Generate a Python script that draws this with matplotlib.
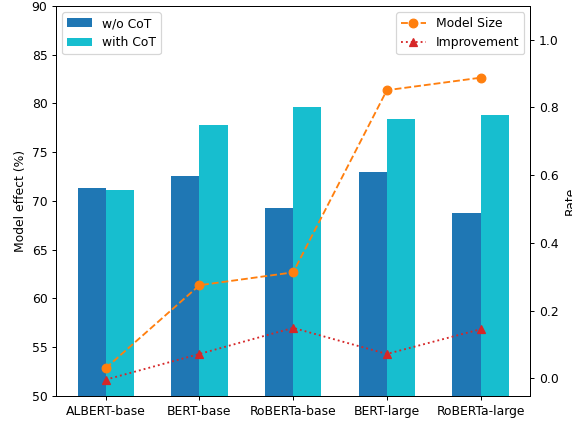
import numpy as np
import matplotlib
matplotlib.use('Agg')
import matplotlib.pyplot as plt

### Data

models = ['ALBERT-base', 'BERT-base', 'RoBERTa-base', 'BERT-large', 'RoBERTa-large']
wo_cot = [71.3, 72.6, 69.3, 73.0, 68.8]
with_cot = [71.1, 77.8, 79.6, 78.4, 78.8]
model_size = [0.03, 0.275, 0.313, 0.851, 0.888]
improvement = [-0.004, 0.072, 0.149, 0.072, 0.145]

x = np.arange(len(models))
width = 0.3

# original looks like a default 6.4x4.8 figure shown at ~89 dpi
fig, ax1 = plt.subplots(figsize=(572 / 89, 423 / 89), dpi=89)
fig.subplots_adjust(left=0.098, right=0.927, top=0.986, bottom=0.064)

ax1.bar(x - width / 2, wo_cot, width, color='#1f77b4', label='w/o CoT')
ax1.bar(x + width / 2, with_cot, width, color='#17becf', label='with CoT')
ax1.set_ylim(50, 90)
ax1.set_xticks(x)
ax1.set_xticklabels(models)
ax1.set_ylabel('Model effect (%)')
ax1.legend(loc='upper left')

ax2 = ax1.twinx()
ax2.plot(x, model_size, '--', color='#ff7f0e', marker='o', markersize=7,
         label='Model Size')
ax2.plot(x, improvement, ':', color='#d62728', marker='^', markersize=7,
         label='Improvement')
ax2.set_ylim(-0.052, 1.1)
ax2.set_ylabel('Rate')
ax2.legend(loc='upper right')

plt.savefig('out.png', dpi=89)
